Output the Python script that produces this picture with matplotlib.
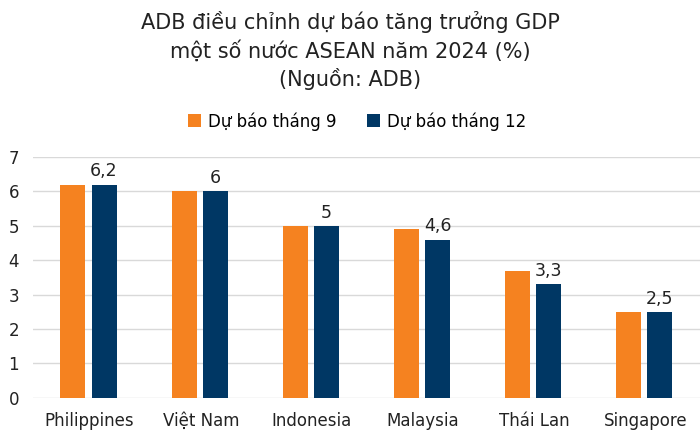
import matplotlib
matplotlib.use("Agg")
import matplotlib.pyplot as plt
import numpy as np

categories = ["Philippines", "Việt Nam", "Indonesia", "Malaysia", "Thái Lan", "Singapore"]
sep_values = [6.2, 6.0, 5.0, 4.9, 3.7, 2.5]
dec_values = [6.2, 6.0, 5.0, 4.6, 3.3, 2.5]
dec_labels = ["6,2", "6", "5", "4,6", "3,3", "2,5"]
series_names = ["Dự báo tháng 9", "Dự báo tháng 12"]
title = "ADB điều chỉnh dự báo tăng trưởng GDP\nmột số nước ASEAN năm 2024 (%)\n(Nguồn: ADB)"

plt.rcParams['font.family'] = ['DejaVu Sans']
orange = "#F58220"
navy = "#003764"

fig = plt.figure(figsize=(7, 4.46), dpi=100)
ax = fig.add_axes([0.047, 0.108, 0.953, 0.54])

x = np.arange(len(categories))
w = 0.225
off = 0.14
ax.bar(x - off, sep_values, width=w, color=orange, label=series_names[0], zorder=3)
ax.bar(x + off, dec_values, width=w, color=navy, label=series_names[1], zorder=3)
for xi, v, lab in zip(x, dec_values, dec_labels):
    ax.text(xi + off, v + 0.12, lab, ha='center', va='bottom', fontsize=12.5, color='#222222')

ax.set_xlim(-0.5, len(categories) - 0.5)
ax.set_ylim(0, 7)
ax.set_yticks(range(0, 8))
ax.set_xticks(x + 0.01)
ax.set_xticklabels(categories, fontsize=12, color='#222222')
ax.tick_params(axis='y', labelsize=12, labelcolor='#222222', length=0, pad=10)
ax.tick_params(axis='x', length=0, pad=10)
ax.grid(axis='y', color='#D9D9D9', linewidth=1, zorder=0)
for s in ax.spines.values():
    s.set_visible(False)

fig.text(0.5, 0.975, title, ha='center', va='top', fontsize=15, color='#222222', linespacing=1.38)
fig.legend(loc='center', bbox_to_anchor=(0.51, 0.728), ncol=2, frameon=False, fontsize=12,
           handlelength=0.8, handleheight=0.8, handletextpad=0.4, columnspacing=1.8)

fig.savefig("out.png", dpi=100)
